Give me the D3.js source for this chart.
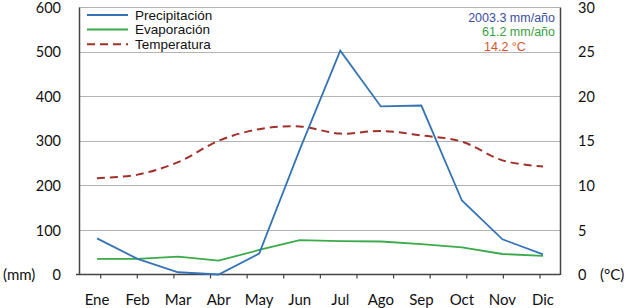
<!DOCTYPE html>
<html>
<head>
  <meta charset="utf-8" />
  <title>Climograma</title>
  <script src="https://cdnjs.cloudflare.com/ajax/libs/d3/7.8.5/d3.min.js"></script>
  <style>
    body { margin: 0; background: #fff; }
    svg { display: block; font-family: "Liberation Sans", Arial, sans-serif; }
    .tick-label { font-family: Lato, "Open Sans", sans-serif; font-size: 15px; fill: #111; }
    .axis-num { font-family: Lato, "Open Sans", sans-serif; font-size: 14.5px; fill: #111; }
    .legend text { font-size: 13.5px; fill: #111; }
  </style>
</head>
<body>
  <div id="chart"></div>
  <script>
    // data
    var months = ['Ene', 'Feb', 'Mar', 'Abr', 'May', 'Jun', 'Jul', 'Ago', 'Sep', 'Oct', 'Nov', 'Dic'];
    var precipitacion = [81, 35, 5, 0, 47, 280, 502, 377, 379, 166, 79, 45];
    var evaporacion = [35, 35, 40, 31, 55, 77, 75, 74, 68, 61, 46, 42];
    var temperatura = [10.8, 11.2, 12.6, 15.0, 16.3, 16.6, 15.8, 16.1, 15.6, 14.9, 12.8, 12.1];
    var mmTicks = [0, 100, 200, 300, 400, 500, 600];
    var cTicks = [0, 5, 10, 15, 20, 25, 30];
    var legendNames = ['Precipitación', 'Evaporación', 'Temperatura'];
    var totals = ['2003.3 mm/año', '61.2 mm/año', '14.2 °C'];

    var W = 626, H = 308;
    // note: can't call it "top", that's window.top
    var plot = { left: 79, right: 560, top: 7, bottom: 274.5 };

    var svg = d3.select('#chart').append('svg')
      .attr('width', W)
      .attr('height', H);

    var x = d3.scalePoint().domain(months).range([97, 543]);
    var yL = d3.scaleLinear().domain([0, 600]).range([plot.bottom, plot.top]);
    var yR = d3.scaleLinear().domain([0, 30]).range([plot.bottom, plot.top]);
    // tick marks on the original don't line up with the months
    var xTick = d3.scaleLinear().domain([0, 12]).range([100.7, 540]);

    // gridlines
    svg.append('g')
      .selectAll('line')
      .data(mmTicks.slice(1))
      .join('line')
      .attr('x1', plot.left).attr('x2', plot.right)
      .attr('y1', d => Math.round(yL(d)) + 0.5)
      .attr('y2', d => Math.round(yL(d)) + 0.5)
      .attr('stroke', '#b4b4b4')
      .attr('stroke-width', 1.2);

    // left axis
    var axL = svg.append('g').attr('transform', 'translate(' + plot.left + ',0)')
      .call(d3.axisLeft(yL).tickValues(mmTicks).tickSize(0).tickPadding(18));
    // right axis
    var axR = svg.append('g').attr('transform', 'translate(' + plot.right + ',0)')
      .call(d3.axisRight(yR).tickValues(cTicks).tickSize(0).tickPadding(18));
    [axL, axR].forEach(function (ax) {
      ax.select('.domain').attr('stroke', '#444').attr('stroke-width', 1.5);
      ax.selectAll('.tick text').attr('class', 'axis-num').attr('dy', '0.36em');
    });

    // bottom axis
    svg.append('line')
      .attr('x1', plot.left - 3).attr('x2', plot.right)
      .attr('y1', plot.bottom).attr('y2', plot.bottom)
      .attr('stroke', '#444').attr('stroke-width', 1.5);
    svg.append('g')
      .selectAll('line')
      .data(d3.range(13))
      .join('line')
      .attr('x1', d => xTick(d)).attr('x2', d => xTick(d))
      .attr('y1', plot.bottom).attr('y2', plot.bottom + 4)
      .attr('stroke', '#444').attr('stroke-width', 1.2);
    svg.append('g')
      .selectAll('text')
      .data(months)
      .join('text')
      .attr('class', 'tick-label')
      .attr('x', d => x(d))
      .attr('y', 305)
      .attr('text-anchor', 'middle')
      .text(d => d);

    // unit labels
    svg.append('text').attr('class', 'tick-label')
      .attr('x', 3).attr('y', plot.bottom + 5).text('(mm)');
    svg.append('text').attr('class', 'tick-label')
      .attr('x', 600).attr('y', plot.bottom + 5).text('(°C)');

    // series
    var lineL = d3.line().x((d, i) => x(months[i])).y(d => yL(d));
    var lineT = d3.line().x((d, i) => x(months[i])).y(d => yR(d))
      .curve(d3.curveCardinal.tension(0));

    svg.append('path').datum(evaporacion)
      .attr('d', lineL)
      .attr('fill', 'none')
      .attr('stroke', '#3aaa4a')
      .attr('stroke-width', 1.8);
    svg.append('path').datum(temperatura)
      .attr('d', lineT)
      .attr('fill', 'none')
      .attr('stroke', '#a0302a')
      .attr('stroke-width', 2)
      .attr('stroke-dasharray', '8,5');
    svg.append('path').datum(precipitacion)
      .attr('d', lineL)
      .attr('fill', 'none')
      .attr('stroke', '#3574b4')
      .attr('stroke-width', 1.8);

    // legend
    var legColors = ['#3574b4', '#3aaa4a', '#a0302a'];
    var leg = svg.append('g').attr('class', 'legend');
    legendNames.forEach(function (name, i) {
      var yy = 15 + i * 14.6;
      leg.append('line')
        .attr('x1', 87).attr('x2', 128)
        .attr('y1', yy).attr('y2', yy)
        .attr('stroke', legColors[i])
        .attr('stroke-width', 2)
        .attr('stroke-dasharray', i === 2 ? '8,5' : null);
      leg.append('text')
        .attr('x', 135).attr('y', yy + 4.5)
        .text(name);
    });

    // annual totals
    var totColors = ['#3b4f9e', '#3a9e44', '#d4572c'];
    totals.forEach(function (t, i) {
      svg.append('text')
        .attr('x', i === 2 ? 484 : 555)
        .attr('y', 21.5 + i * 14.8)
        .attr('text-anchor', i === 2 ? 'start' : 'end')
        .attr('font-size', 12.5)
        .attr('fill', totColors[i])
        .text(t);
    });
  </script>
</body>
</html>
